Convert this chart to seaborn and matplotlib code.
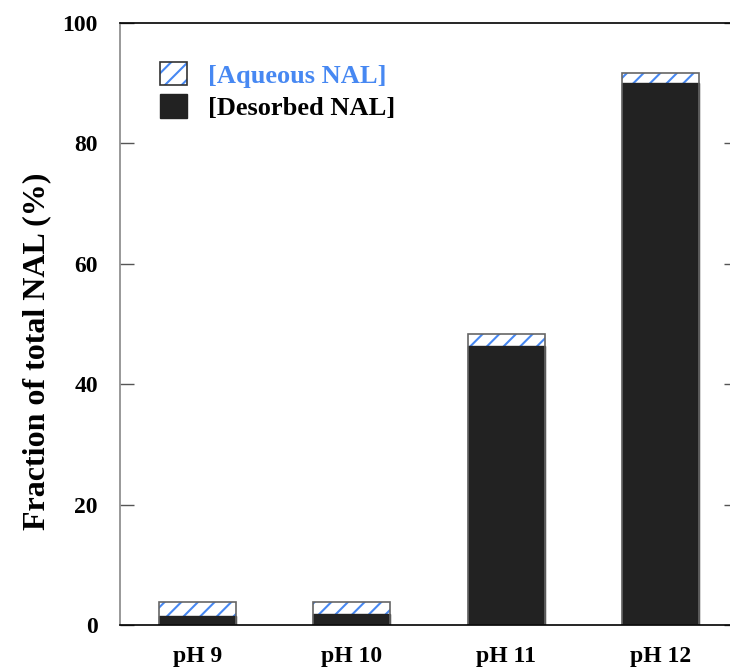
import matplotlib
matplotlib.use("Agg")
import matplotlib.pyplot as plt
import seaborn as sns
import pandas as pd
from matplotlib.patches import Patch
from matplotlib.legend_handler import HandlerTuple

# valores
categorias = ["pH 9", "pH 10", "pH 11", "pH 12"]
desorvido = [1.5, 1.8, 46.4, 90.0]
aquoso = [2.3, 2.1, 2.0, 1.7]
total = [d + a for d, a in zip(desorvido, aquoso)]

azul = "#4788f2"

sns.set_theme(style="white")
plt.rcParams["font.family"] = ["Liberation Serif", "DejaVu Serif"]
plt.rcParams["font.weight"] = "bold"
plt.rcParams["hatch.linewidth"] = 1.5
plt.rcParams["text.color"] = "black"
plt.rcParams["axes.labelcolor"] = "black"
plt.rcParams["xtick.labelcolor"] = "black"
plt.rcParams["ytick.labelcolor"] = "black"

df = pd.DataFrame({"pH": categorias, "total": total, "desorvido": desorvido})

fig = plt.figure(figsize=(7.3, 6.67), dpi=100)
ax = fig.add_axes([120 / 730, 42 / 667, 618 / 730, 602 / 667])

# parte aquosa (hachurada) por trás
sns.barplot(data=df, x="pH", y="total", color="white", width=0.5,
            hatch="//", edgecolor=azul, linewidth=0, saturation=1, ax=ax)
# parte dessorvida
sns.barplot(data=df, x="pH", y="desorvido", color="#222222", width=0.5,
            edgecolor="#222222", linewidth=1, saturation=1, ax=ax)
# contorno das barras totais
sns.barplot(data=df, x="pH", y="total", fill=False, width=0.5,
            edgecolor="#666666", linewidth=1.2, ax=ax)

ax.set_xlim(-0.5, 3.5)
ax.set_ylim(0, 100)
ax.set_yticks([0, 20, 40, 60, 80, 100])
ax.set_xlabel("")
ax.set_ylabel("Fraction of total NAL (%)", fontsize=23, fontweight="bold", color="black")
ax.yaxis.set_label_coords(-0.112, 0.455)

ax.tick_params(axis="y", direction="in", length=10, width=1, left=True, right=True,
               labelsize=17, pad=16, color="#555555", labelcolor="black")
ax.tick_params(axis="x", length=0, labelsize=17, pad=15, labelcolor="black")
for lab in ax.get_xticklabels() + ax.get_yticklabels():
    lab.set_fontweight("bold")

for s in ["top", "bottom", "right"]:
    ax.spines[s].set_color("black")
    ax.spines[s].set_linewidth(1.2)
ax.spines["left"].set_color("#888888")
ax.spines["left"].set_linewidth(1.2)

# legenda
h_aq = (Patch(facecolor="white", edgecolor=azul, hatch="//", linewidth=0),
        Patch(fill=False, edgecolor="#333333", linewidth=1.2))
h_de = Patch(facecolor="#222222", edgecolor="#222222")
leg = ax.legend([h_aq, h_de], ["[Aqueous NAL]", "[Desorbed NAL]"],
                handler_map={tuple: HandlerTuple(ndivide=1, pad=0)},
                loc="upper left", bbox_to_anchor=(0.027, 0.975), frameon=False,
                prop={"size": 19, "weight": "bold"}, handlelength=1.0,
                handleheight=1.0, handletextpad=0.8, labelspacing=0.25)
leg.get_texts()[0].set_color(azul)
leg.get_texts()[1].set_color("black")

fig.savefig("out.png", dpi=100)
